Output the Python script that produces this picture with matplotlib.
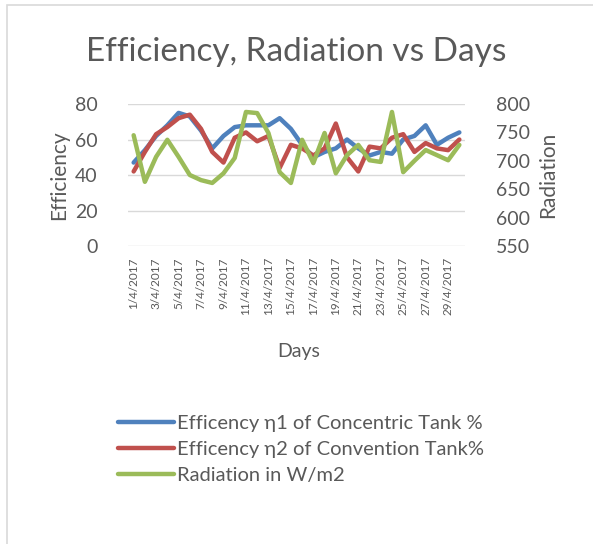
import matplotlib
matplotlib.use("Agg")
import matplotlib.pyplot as plt
from matplotlib.patches import Rectangle
import numpy as np

plt.rcParams['font.family'] = ['Lato', 'DejaVu Sans']

# data
days = [f"{d}/4/2017" for d in range(1, 31)]
eff_concentric = [47, 54, 62, 68, 75, 73, 65, 55, 62, 67, 68, 68, 68, 72, 66,
                  57, 50, 53, 55, 60, 55, 51, 53, 52, 60, 62, 68, 57, 61, 64]
eff_convention = [42, 53, 63, 67, 72, 74, 66, 53, 47, 61, 64, 59, 62, 44, 57,
                  55, 51, 55, 69, 50, 42, 56, 55, 61, 63, 53, 58, 55, 54, 60]
radiation = [745, 663, 707, 737, 707, 675, 666, 661, 678, 705, 786, 784, 749, 680, 661,
             737, 696, 749, 678, 710, 728, 701, 698, 786, 680, 700, 719, 710, 701, 728]

text_col = '#595959'
blue, red, green = '#4F81BD', '#C0504D', '#9BBB59'

fig = plt.figure(figsize=(5.93, 5.44), dpi=100)
ax = fig.add_axes([0.2159, 0.5478, 0.5682, 0.261])
ax2 = ax.twinx()

x = np.arange(len(days))
l1, = ax.plot(x, eff_concentric, color=blue, lw=3.2, solid_capstyle='round',
              label='Efficency η1 of Concentric Tank %')
l2, = ax.plot(x, eff_convention, color=red, lw=3.2, solid_capstyle='round',
              label='Efficency η2 of Convention Tank%')
l3, = ax2.plot(x, radiation, color=green, lw=3.2, solid_capstyle='round',
               label='Radiation in W/m2')

ax.set_xlim(-0.5, len(days) - 0.5)
ax.set_ylim(0, 80)
ax.set_yticks([0, 20, 40, 60, 80])
ax2.set_ylim(550, 800)
ax2.set_yticks([550, 600, 650, 700, 750, 800])

ax.set_xticks(x[::2])
ax.set_xticklabels(days[::2], rotation=90, fontsize=8.5, color=text_col)
ax.grid(axis='y', color='#d9d9d9', lw=1)
ax.set_axisbelow(True)

for a in (ax, ax2):
    for s in a.spines.values():
        s.set_visible(False)
    a.tick_params(length=0, labelsize=14, colors=text_col)
ax.tick_params(axis='x', labelsize=8.5, pad=8)
ax.tick_params(axis='y', pad=22)
ax2.tick_params(axis='y', pad=22)

ax.set_ylabel('Efficiency', fontsize=15, color=text_col, labelpad=4)
ax2.set_ylabel('Radiation', fontsize=15, color=text_col, labelpad=6)

fig.text(0.5, 0.905, 'Efficiency, Radiation vs Days', ha='center', va='center',
         fontsize=24, color=text_col)
fig.text(0.503, 0.353, 'Days', ha='center', va='center', fontsize=14, color=text_col)

fig.legend(handles=[l1, l2, l3], loc='upper left', bbox_to_anchor=(0.185, 0.252),
           frameon=False, fontsize=14.5, labelcolor=text_col, handlelength=2.8,
           handletextpad=0.15, labelspacing=0.45, borderaxespad=0)

fig.patches.append(Rectangle((7 / 593, -0.05), 1.2, 1 - 5 / 544 + 0.05,
                             transform=fig.transFigure, fill=False,
                             edgecolor='#d9d9d9', lw=1.2))

fig.savefig('out.png', dpi=100, facecolor='white')
